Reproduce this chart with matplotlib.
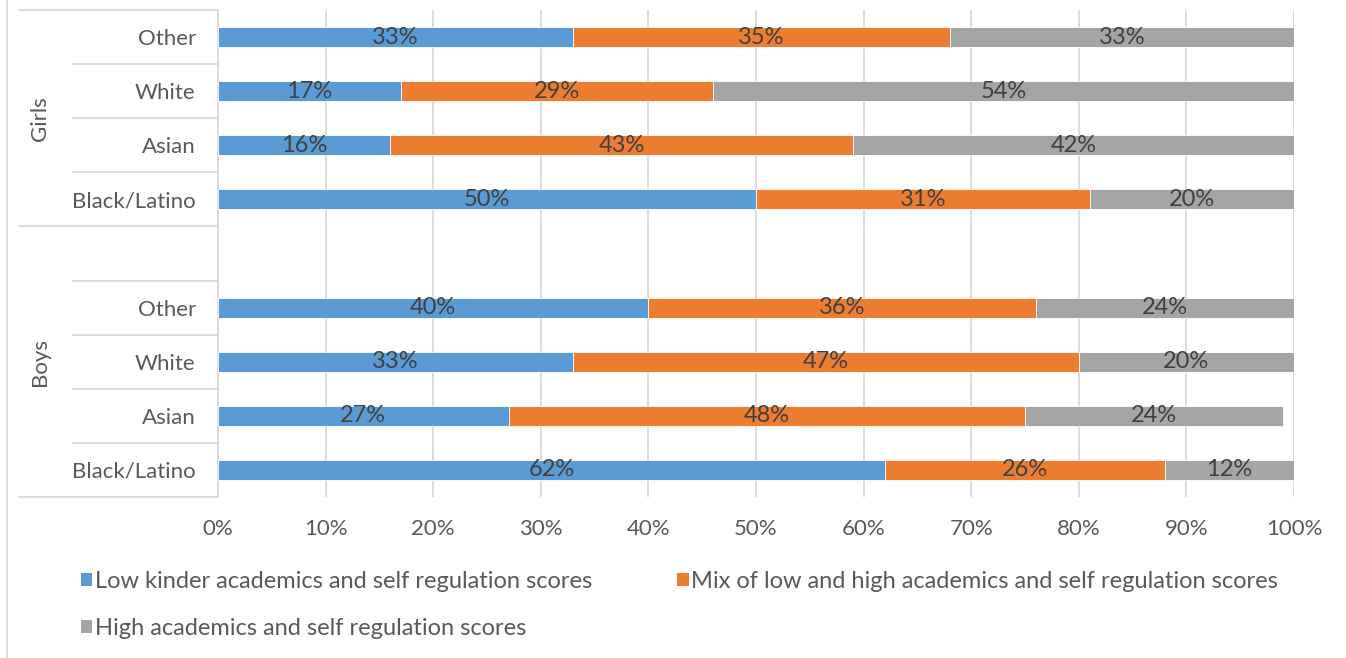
import matplotlib.pyplot as plt
from matplotlib.patches import Patch
from matplotlib.lines import Line2D
import matplotlib.transforms as mtransforms

# datos
groups = ["Girls", "Boys"]
races = ["Other", "White", "Asian", "Black/Latino"]
low_girls = [33, 17, 16, 50]
mix_girls = [35, 29, 43, 31]
high_girls = [33, 54, 42, 20]
low_boys = [40, 33, 27, 62]
mix_boys = [36, 47, 48, 26]
high_boys = [24, 20, 24, 12]
series_names = ["Low kinder academics and self regulation scores",
                "Mix of low and high academics and self regulation scores",
                "High academics and self regulation scores"]
colors = ["#5B9BD5", "#ED7D31", "#A5A5A5"]

plt.rcParams['font.family'] = ['Lato', 'DejaVu Sans']
fs = 16
fs_lab = 17
fs_leg = 17
txt = "#595959"
grid = "#D9D9D9"

W, H = 1346, 658
fig = plt.figure(figsize=(W / 100, H / 100), dpi=100)
ax = fig.add_axes([218 / W, (H - 497) / H, (1294 - 218) / W, (497 - 10) / H])

# filas: chicas 0-3, fila vacia 4, chicos 5-8
rows_girls = [0, 1, 2, 3]
rows_boys = [5, 6, 7, 8]
bh = 0.37
for rows, parts in [(rows_girls, [low_girls, mix_girls, high_girls]),
                    (rows_boys, [low_boys, mix_boys, high_boys])]:
    left = [0] * len(rows)
    for vals, c in zip(parts, colors):
        ax.barh(rows, vals, left=left, height=bh, color=c,
                edgecolor="white", linewidth=0.6, zorder=3)
        for r, l, v in zip(rows, left, vals):
            ax.text(min(l + v / 2, (l + 100) / 2), r, f"{v}%", ha="center", va="center",
                    fontsize=fs_lab, color="#404040", zorder=4)
        left = [a + b for a, b in zip(left, vals)]

ax.set_xlim(0, 100)
ax.set_ylim(8.5, -0.5)
ax.set_xticks(range(0, 101, 10))
ax.set_xticklabels([f"{t}%" for t in range(0, 101, 10)])
ax.set_yticks(rows_girls + [4] + rows_boys)
ax.set_yticklabels(races + [""] + races)
ax.tick_params(axis="both", length=0, labelsize=fs, labelcolor=txt)
ax.tick_params(axis="x", pad=16)
ax.tick_params(axis="y", pad=16)
ax.grid(axis="x", color=grid, linewidth=1.3, zorder=0)
for s in ["top", "right", "bottom"]:
    ax.spines[s].set_visible(False)
ax.spines["left"].set_color(grid)
ax.spines["left"].set_linewidth(1.3)

# separadores del eje de categorias
tr = mtransforms.blended_transform_factory(fig.transFigure, ax.transData)
for y in [0.5, 1.5, 2.5, 4.5, 5.5, 6.5, 7.5]:
    ax.add_line(Line2D([73 / W, 218 / W], [y, y], transform=tr, color=grid,
                       linewidth=1.3, clip_on=False))
for y in [-0.5, 3.5, 8.5]:
    ax.add_line(Line2D([19 / W, 218 / W], [y, y], transform=tr, color=grid,
                       linewidth=1.3, clip_on=False))
for g, rows in zip(groups, [[-0.5, 3.5], [3.5, 8.5]]):
    ax.text(40 / W, sum(rows) / 2, g, transform=tr, rotation=90, ha="center",
            va="center", fontsize=fs, color=txt)

# borde izquierdo del grafico
fig.add_artist(Line2D([6.5 / W, 6.5 / W], [0, 1], transform=fig.transFigure,
                      color=grid, linewidth=1.3))

handles = [Patch(facecolor=colors[0]), Patch(facecolor=colors[2]), Patch(facecolor=colors[1])]
labels = [series_names[0], series_names[2], series_names[1]]
fig.legend(handles, labels, ncol=2, loc="upper left",
           bbox_to_anchor=(60 / W, 1 - 550 / H), frameon=False, fontsize=fs_leg,
           labelcolor=txt, handlelength=0.47, handleheight=0.47,
           handletextpad=0.12, columnspacing=3.6, labelspacing=1.08)

fig.savefig("out.png", dpi=100)
